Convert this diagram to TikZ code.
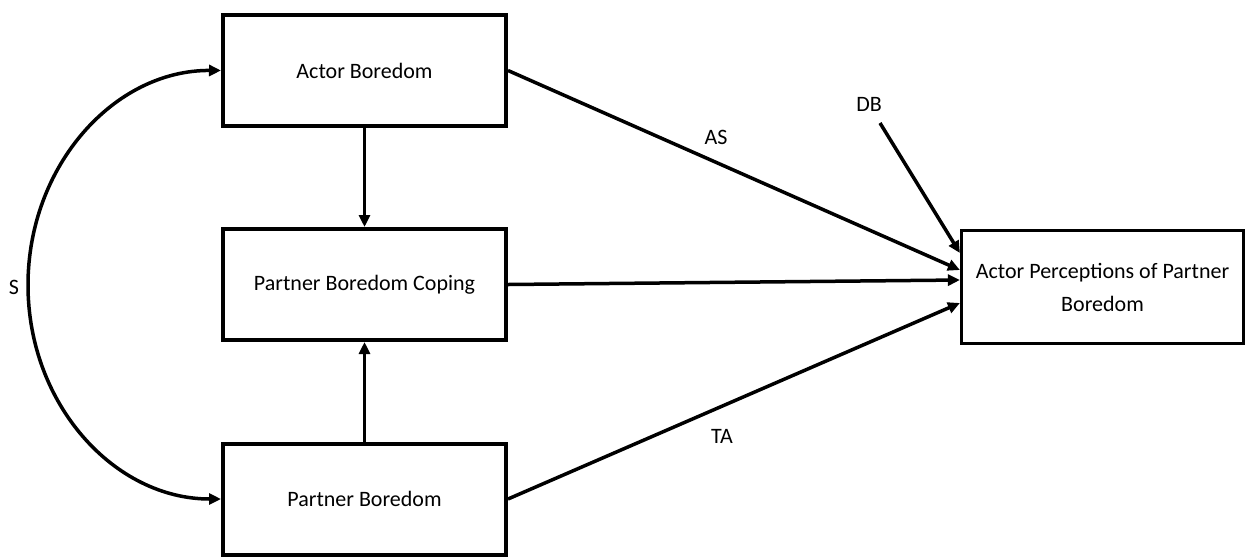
\documentclass[tikz,border=0pt]{standalone}
\usepackage{fontspec}
\setmainfont{Carlito}
\usetikzlibrary{arrows.meta}
\begin{document}
\begin{tikzpicture}[x=1pt,y=-1pt,
  box/.style={draw,line width=4pt,minimum width=283pt,minimum height=111pt,inner sep=0pt,font=\fontsize{22}{33}\selectfont},
  rbox/.style={draw,line width=3.2pt,minimum width=282pt,minimum height=113pt,inner sep=0pt,align=center,font=\fontsize{22}{33}\selectfont},
  conn/.style={line width=3.5pt,-{Triangle[length=12pt,width=11pt]}},
  lbl/.style={font=\fontsize{22}{25}\selectfont,inner sep=0pt}]
\useasboundingbox (0,0) rectangle (1246,558);
\node[box] (ab) at (364.5,70.5) {Actor Boredom};
\node[box] (pbc) at (364.5,284.5) {Partner Boredom Coping};
\node[box] (pb) at (364.5,499) {Partner Boredom};
\node[rbox] (apb) at (1102.5,287) {Actor Perceptions of Partner\\Boredom};
\coordinate (db) at (880,123);
\node[lbl] (dbl) at (869,104) {DB};
\node[lbl] (asl) at (716,137) {AS};
\node[lbl] (tal) at (722,436) {TA};
\node[lbl] (sl) at (14,287) {S};
\draw[conn] (ab.south) -- (pbc.north);
\draw[conn] (pb.north) -- (pbc.south);
\draw[conn] (ab.east) -- ([yshift=17pt]apb.west);
\draw[conn] (pbc.east) -- ([yshift=7pt]apb.west);
\draw[conn] (pb.east) -- ([yshift=-16pt]apb.west);
\draw[conn] (db) -- ([yshift=34pt]apb.west);
\draw[line width=3.5pt,{Triangle[length=12pt,width=11pt]}-{Triangle[length=12pt,width=11pt]}]
  (ab.west) .. controls (114,70) and (28,166) .. (28,285)
  .. controls (28,404) and (114,499) .. (pb.west);
\end{tikzpicture}
\end{document}
